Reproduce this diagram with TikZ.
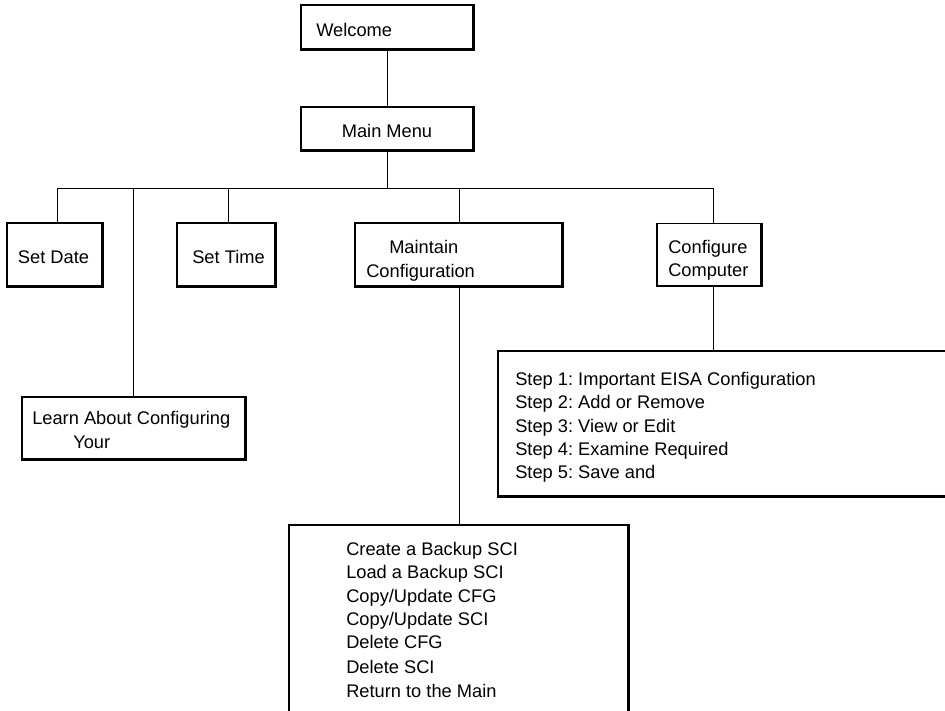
\documentclass[tikz,border=0pt]{standalone}
\usepackage{fontspec}
\setmainfont{Liberation Sans}
\begin{document}
\frenchspacing
\begin{tikzpicture}[x=0.75pt,y=-0.75pt,
  box/.style 2 args={draw, line width=0.8pt, inner sep=0pt, minimum width=#1*0.75pt, minimum height=#2*0.75pt},
  txt/.style={anchor=base west, inner sep=0pt, font=\fontsize{13.7pt}{16pt}\selectfont},
  ctxt/.style={anchor=base, inner sep=0pt, font=\fontsize{13.7pt}{16pt}\selectfont},
  link/.style={draw, line width=0.7pt},
  shade/.style={line width=1.8pt}]
\clip (0,0) rectangle (945,710);
\fill[white] (0,0) rectangle (945,710);
% boxes
\node[box={172}{44}] (welcome) at (387,27) {};
\node[box={172}{43}] (mainmenu) at (387,128.5) {};
\node[box={95}{63}] (setdate) at (54.5,254.5) {};
\node[box={98}{63}] (settime) at (226,254.5) {};
\node[box={207}{63}] (maintain) at (458.5,254.5) {};
\node[box={104}{62}] (configure) at (709,254.5) {};
\node[box={223}{62}] (learn) at (133.5,428) {};
\node[box={480}{145}] (steps) at (738,423.5) {};
\node[box={339}{210}] (backup) at (458.5,630) {};
% heavier right and bottom edges
\foreach \n in {welcome,mainmenu,setdate,settime,maintain,configure,learn,steps,backup}
  \draw[shade] (\n.north east) -- (\n.south east) -- (\n.south west);
% texts
\node[txt] (t1) at (316,37) {Welcome};
\node[ctxt] (t2) at (387,137) {Main Menu};
\node[ctxt] (t3) at (53.5,263) {Set Date};
\node[ctxt] (t4) at (228.5,263) {Set Time};
\node[txt] (t5a) at (389,253) {Maintain};
\node[txt] (t5b) at (366,277) {Configuration};
\node[txt] (t6a) at (668,253) {Configure};
\node[txt] (t6b) at (668,276) {Computer};
\node[txt] (t7a) at (32,424) {Learn About Configuring};
\node[txt] (t7b) at (73,448) {Your};
\node[txt] (s1) at (515,385) {Step 1: Important EISA Configuration};
\node[txt] (s2) at (515,408) {Step 2: Add or Remove};
\node[txt] (s3) at (515,432) {Step 3: View or Edit};
\node[txt] (s4) at (515,455) {Step 4: Examine Required};
\node[txt] (s5) at (515,478) {Step 5: Save and};
\node[txt] (m1) at (346,555) {Create a Backup SCI};
\node[txt] (m2) at (346,578) {Load a Backup SCI};
\node[txt] (m3) at (346,602) {Copy/Update CFG};
\node[txt] (m4) at (346,625) {Copy/Update SCI};
\node[txt] (m5) at (346,648) {Delete CFG};
\node[txt] (m6) at (346,673) {Delete SCI};
\node[txt] (m7) at (346,697) {Return to the Main};
% bus coordinates
\coordinate (bL) at (57,188);
\coordinate (bLearn) at (133.5,188);
\coordinate (bTime) at (228,188);
\coordinate (bMaint) at (459,188);
\coordinate (bR) at (713,188);
% connectors
\draw[link] (welcome.south) -- (mainmenu.north);
\draw[link] (mainmenu.south) -- (mainmenu.south |- bL);
\draw[link] (bL) -- (bR);
\draw[link] (bL) -- (bL |- setdate.north);
\draw[link] (bLearn) -- (learn.north);
\draw[link] (bTime) -- (bTime |- settime.north);
\draw[link] (bMaint) -- (bMaint |- maintain.north);
\draw[link] (bR) -- (bR |- configure.north);
\draw[link] (bMaint |- maintain.south) -- (bMaint |- backup.north);
\draw[link] (bR |- configure.south) -- (bR |- steps.north);
\end{tikzpicture}
\end{document}
